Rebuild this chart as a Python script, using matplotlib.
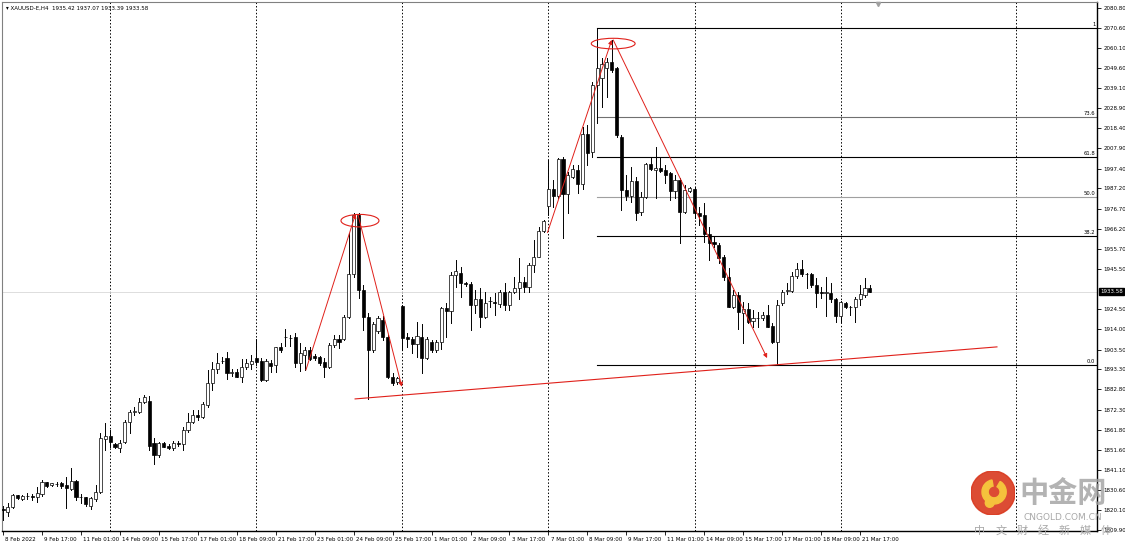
import matplotlib.pyplot as plt
import matplotlib.transforms as mtransforms
from matplotlib.patches import Rectangle, Ellipse, Circle, Wedge

# XAUUSD H4 bars, 8 Feb 09:00 .. 22 Mar 01:00
opens = [1820.8, 1819.0, 1822.0, 1827.9, 1826.1, 1827.5, 1827.4, 1826.8, 1828.6, 1834.6,
         1833.1, 1833.8, 1834.4, 1833.2, 1831.2, 1835.3, 1826.8, 1826.8, 1822.5, 1826.0,
         1829.4, 1857.0, 1858.7, 1854.5, 1852.6, 1855.7, 1866.1, 1871.3, 1871.3, 1876.1,
         1877.0, 1854.9, 1848.8, 1854.9, 1853.6, 1852.3, 1854.9, 1854.5, 1861.8, 1866.1,
         1869.6, 1868.7, 1874.8, 1886.0, 1893.3, 1897.8, 1899.0, 1891.5, 1892.0, 1889.1,
         1894.3, 1896.0, 1899.0, 1897.8, 1887.7, 1896.7, 1895.5, 1904.7, 1910.2, 1909.3,
         1910.2, 1896.4, 1900.7, 1903.3, 1900.2, 1899.5, 1897.2, 1894.6, 1905.9, 1908.8,
         1908.8, 1920.6, 1942.7, 1973.4, 1934.4, 1920.3, 1903.3, 1913.3, 1918.9, 1910.2,
         1889.1, 1886.5, 1926.1, 1910.2, 1908.8, 1906.4, 1910.2, 1899.0, 1907.6, 1903.3,
         1907.6, 1924.9, 1923.7, 1942.2, 1943.1, 1937.9, 1937.6, 1926.7, 1929.6, 1920.6,
         1928.6, 1928.4, 1927.2, 1933.6, 1926.7, 1933.6, 1935.3, 1938.8, 1936.2, 1947.4,
         1951.7, 1965.2, 1978.0, 1986.7, 1983.2, 2002.2, 1984.3, 1992.9, 1996.7, 1989.5,
         2015.5, 2006.2, 2040.8, 2044.3, 2049.5, 2053.0, 2049.5, 2014.0, 1986.3, 1983.4,
         1991.0, 1974.7, 1982.9, 1999.7, 1996.7, 1997.9, 1996.7, 1995.0, 1985.8, 1991.5,
         1975.1, 1985.8, 1986.7, 1974.2, 1973.2, 1963.5, 1959.5, 1957.8, 1951.4, 1941.4,
         1925.8, 1931.8, 1922.7, 1924.4, 1918.5, 1919.7, 1919.7, 1921.5, 1915.7, 1907.6,
         1927.5, 1934.1, 1934.1, 1941.7, 1945.2, 1942.8, 1942.7, 1937.0, 1933.1, 1933.0,
         1933.1, 1929.6, 1920.9, 1927.9, 1925.8, 1925.4, 1929.6, 1931.8, 1935.42]
highs = [1822.4, 1824.1, 1828.6, 1828.2, 1828.0, 1828.9, 1828.6, 1832.4, 1835.8, 1835.0,
         1834.4, 1835.0, 1835.0, 1837.6, 1842.2, 1835.8, 1828.6, 1827.2, 1827.2, 1833.2,
         1860.1, 1865.2, 1861.8, 1855.2, 1856.6, 1867.0, 1872.2, 1873.9, 1878.2, 1880.0,
         1879.5, 1857.5, 1855.7, 1855.7, 1854.5, 1856.2, 1856.2, 1863.5, 1870.4, 1872.2,
         1872.2, 1876.5, 1892.9, 1897.2, 1901.6, 1899.8, 1902.4, 1893.3, 1893.3, 1898.5,
         1898.5, 1900.7, 1908.8, 1899.0, 1898.5, 1898.1, 1905.0, 1906.8, 1914.0, 1911.1,
         1911.9, 1906.8, 1905.0, 1905.0, 1901.2, 1900.2, 1899.0, 1906.8, 1911.1, 1911.1,
         1921.5, 1963.9, 1974.2, 1974.2, 1937.0, 1922.3, 1918.0, 1920.9, 1920.9, 1911.1,
         1891.2, 1889.5, 1926.7, 1911.9, 1910.2, 1918.0, 1916.8, 1910.2, 1908.5, 1908.5,
         1925.5, 1927.5, 1943.9, 1950.0, 1946.5, 1938.5, 1938.8, 1934.4, 1935.3, 1933.6,
         1931.0, 1932.7, 1934.4, 1937.9, 1934.0, 1941.4, 1950.9, 1941.4, 1948.3, 1960.4,
         1967.3, 1970.8, 2001.9, 1991.5, 2002.8, 2003.6, 1995.9, 1999.3, 1999.3, 2019.0,
         2020.1, 2042.2, 2070.4, 2054.7, 2055.0, 2064.2, 2050.3, 2014.9, 1994.1, 1998.4,
         1993.3, 1985.5, 2000.2, 2002.8, 2008.8, 2003.1, 1999.3, 1995.8, 1994.1, 1992.4,
         1989.0, 1988.1, 1988.1, 1977.7, 1979.4, 1967.3, 1962.1, 1958.6, 1952.6, 1945.7,
         1934.4, 1933.6, 1928.4, 1927.5, 1924.1, 1923.2, 1923.2, 1926.7, 1917.1, 1929.3,
         1934.4, 1937.9, 1943.9, 1948.3, 1950.0, 1943.0, 1943.1, 1940.5, 1936.2, 1941.0,
         1937.9, 1930.1, 1928.8, 1928.4, 1926.3, 1930.6, 1937.0, 1940.5, 1937.07]
lows = [1815.0, 1817.3, 1821.5, 1826.1, 1825.5, 1826.1, 1825.5, 1824.6, 1827.5, 1832.4,
        1832.7, 1832.7, 1831.5, 1821.1, 1830.6, 1825.5, 1823.7, 1822.3, 1820.6, 1825.1,
        1828.9, 1851.4, 1853.1, 1852.3, 1850.5, 1854.9, 1860.1, 1869.6, 1870.4, 1875.6,
        1851.5, 1844.1, 1847.6, 1852.8, 1851.7, 1851.4, 1853.5, 1851.4, 1860.9, 1865.2,
        1867.0, 1867.8, 1873.9, 1882.5, 1891.2, 1896.4, 1888.1, 1889.8, 1889.1, 1886.9,
        1893.3, 1893.3, 1895.5, 1887.4, 1887.4, 1892.1, 1892.1, 1902.4, 1905.4, 1905.4,
        1894.6, 1892.6, 1892.9, 1898.1, 1898.1, 1895.5, 1889.5, 1893.8, 1905.0, 1904.2,
        1908.5, 1919.7, 1941.4, 1930.1, 1913.7, 1877.7, 1902.4, 1912.0, 1908.5, 1888.6,
        1885.1, 1885.7, 1903.3, 1905.0, 1901.6, 1899.8, 1891.2, 1898.5, 1902.4, 1902.4,
        1904.0, 1910.2, 1917.1, 1936.2, 1931.0, 1936.5, 1913.7, 1922.3, 1915.4, 1919.7,
        1925.8, 1921.5, 1925.8, 1924.1, 1924.1, 1932.7, 1929.6, 1933.6, 1933.6, 1944.0,
        1951.4, 1964.7, 1973.4, 1977.7, 1982.0, 1961.3, 1974.2, 1992.4, 1984.6, 1987.0,
        1999.3, 2003.6, 2021.0, 2029.6, 2034.8, 2047.8, 2014.0, 1975.9, 1981.1, 1980.3,
        1970.8, 1973.4, 1982.0, 1996.7, 1982.0, 1995.8, 1989.8, 1981.1, 1982.0, 1958.6,
        1974.2, 1985.5, 1971.6, 1968.2, 1959.5, 1950.0, 1956.9, 1948.3, 1939.6, 1925.4,
        1924.9, 1914.0, 1906.8, 1917.1, 1915.4, 1915.4, 1918.9, 1915.1, 1906.8, 1895.3,
        1926.7, 1932.4, 1933.6, 1940.5, 1941.7, 1935.3, 1936.2, 1925.8, 1930.1, 1920.9,
        1928.4, 1918.0, 1918.0, 1924.9, 1921.5, 1918.0, 1926.7, 1931.0, 1933.39]
closes = [1820.2, 1822.0, 1828.0, 1826.5, 1827.5, 1827.4, 1827.2, 1828.9, 1835.0, 1832.9,
          1834.1, 1833.7, 1832.7, 1831.5, 1835.3, 1826.8, 1827.0, 1823.2, 1826.3, 1829.4,
          1857.5, 1858.7, 1855.7, 1852.8, 1855.2, 1866.1, 1871.3, 1871.5, 1876.5, 1879.1,
          1853.5, 1848.8, 1854.9, 1853.1, 1852.3, 1855.2, 1854.7, 1861.8, 1866.1, 1869.6,
          1868.7, 1875.1, 1886.0, 1893.3, 1896.7, 1897.5, 1891.2, 1891.7, 1889.5, 1894.3,
          1896.4, 1897.8, 1897.3, 1887.7, 1897.8, 1895.0, 1904.7, 1903.3, 1910.0, 1909.5,
          1896.4, 1901.6, 1903.3, 1898.5, 1899.1, 1896.7, 1894.6, 1905.9, 1908.8, 1907.6,
          1920.6, 1942.7, 1973.4, 1934.4, 1920.3, 1903.3, 1916.8, 1919.7, 1910.2, 1889.1,
          1886.0, 1888.6, 1909.4, 1908.8, 1906.4, 1910.6, 1899.0, 1908.8, 1903.3, 1907.6,
          1924.9, 1923.7, 1942.2, 1944.5, 1937.9, 1937.7, 1926.7, 1929.6, 1920.6, 1927.9,
          1928.8, 1927.5, 1933.6, 1926.7, 1933.6, 1935.3, 1938.8, 1936.2, 1947.4, 1951.7,
          1965.2, 1970.3, 1986.7, 1983.2, 2002.2, 1984.3, 1994.1, 1997.1, 1989.5, 2015.5,
          2005.4, 2040.8, 2049.5, 2051.6, 2053.0, 2048.6, 2014.9, 1986.3, 1983.4, 1991.0,
          1974.2, 1982.9, 1999.7, 1997.2, 1997.9, 1996.4, 1994.1, 1985.8, 1991.5, 1975.1,
          1986.3, 1987.5, 1974.2, 1973.0, 1963.5, 1959.0, 1958.3, 1950.9, 1941.0, 1925.8,
          1931.8, 1923.2, 1924.4, 1918.0, 1920.1, 1919.9, 1921.5, 1915.4, 1907.6, 1926.7,
          1933.6, 1934.3, 1941.7, 1945.2, 1942.7, 1942.6, 1937.0, 1933.1, 1933.0, 1933.1,
          1929.6, 1920.9, 1928.4, 1925.4, 1925.6, 1929.6, 1932.4, 1935.3, 1933.58]

time_labels = ['8 Feb 2022', '9 Feb 17:00', '11 Feb 01:00', '14 Feb 09:00', '15 Feb 17:00',
               '17 Feb 01:00', '18 Feb 09:00', '21 Feb 17:00', '23 Feb 01:00', '24 Feb 09:00',
               '25 Feb 17:00', '1 Mar 01:00', '2 Mar 09:00', '3 Mar 17:00', '7 Mar 01:00',
               '8 Mar 09:00', '9 Mar 17:00', '11 Mar 01:00', '14 Mar 09:00', '15 Mar 17:00',
               '17 Mar 01:00', '18 Mar 09:00', '21 Mar 17:00']
week_starts = [22, 52, 82, 112, 142, 172, 208]

price_ticks = [2080.80, 2070.60, 2060.10, 2049.60, 2039.10, 2028.90, 2018.40, 2007.90,
               1997.40, 1987.20, 1976.70, 1966.20, 1955.70, 1945.50, 1924.50, 1914.00,
               1903.50, 1893.30, 1882.80, 1872.30, 1861.80, 1851.60, 1841.10, 1830.60,
               1820.10, 1809.90]
last_price = 1933.58
header = 'XAUUSD-E,H4  1935.42 1937.07 1933.39 1933.58'

fib_start = 122
fib_high, fib_low = 2070.4, 1895.3
fib_levels = [0.0, 38.2, 50.0, 61.8, 73.6, 100.0]
fib_texts = ['0.0', '38.2', '50.0', '61.8', '73.6', '1']
fib_colors = ['black', 'black', '#a0a0a0', 'black', '#707070', 'black']

# hand drawn red marks: (bar, price) pairs
up_arrows = [((62.2, 1892.9), (72.4, 1973.9)), ((111.8, 1964.2), (125.0, 2064.2))]
down_arrows = [((72.9, 1973.4), (81.9, 1884.2)), ((125.3, 2064.2), (156.9, 1899.1))]
ellipses = [(73.3, 1970.4, 7.8, 6.5), (125.3, 2062.3, 9.0, 5.5)]
trend_line = ((72.3, 1877.9), (204.1, 1904.9))

watermark_sub = ['中', '文', '财', '经', '新', '媒', '体']

plt.rcParams['font.family'] = ['DejaVu Sans']

fig = plt.figure(figsize=(11.25, 5.46), dpi=100)
ax = fig.add_axes([0.0018, 0.0275, 0.9733, 0.9689])
ax.set_xlim(-0.2, 224.64)
ax.set_ylim(1809.36, 2083.9)

# candles
for i in range(len(opens)):
    o, h, l, c = opens[i], highs[i], lows[i], closes[i]
    ax.plot([i, i], [l, h], color='black', lw=0.7, zorder=3)
    bottom = min(o, c)
    height = max(abs(c - o), 0.25)
    face = 'white' if c >= o else 'black'
    ax.add_patch(Rectangle((i - 0.32, bottom), 0.64, height, facecolor=face,
                           edgecolor='black', lw=0.5, zorder=4))

# weekly separators
for w in week_starts:
    ax.axvline(w, color='black', lw=0.7, linestyle=(0, (1.5, 2.0)), zorder=1)

# last price line
ax.axhline(last_price, color='#d8d8d8', lw=0.6, zorder=1)

# fibonacci
for lev, txt, col in zip(fib_levels, fib_texts, fib_colors):
    p = fib_low + (fib_high - fib_low) * lev / 100.0
    ax.plot([fib_start, 224.64], [p, p], color=col, lw=0.8, zorder=2)
    ax.text(224.3, p + 0.6, txt, ha='right', va='bottom', fontsize=3.8, zorder=5)

# red annotations
for (x0, y0), (x1, y1) in up_arrows + down_arrows:
    ax.annotate('', xy=(x1, y1), xytext=(x0, y0),
                arrowprops=dict(arrowstyle='-|>', color='#e0201a', lw=0.7,
                                mutation_scale=6, shrinkA=0, shrinkB=0), zorder=6)
for cx, cy, w, h in ellipses:
    ax.add_patch(Ellipse((cx, cy), w, h, fill=False, edgecolor='#e0201a', lw=0.8, zorder=6))
(tx0, ty0), (tx1, ty1) = trend_line
ax.plot([tx0, tx1], [ty0, ty1], color='#e0201a', lw=0.8, zorder=6)

# axes styling
ax.yaxis.tick_right()
ax.set_yticks(price_ticks)
ax.set_yticklabels(['%.2f' % p for p in price_ticks])
ax.tick_params(axis='y', length=3, width=0.6, labelsize=4, pad=1.5, direction='out')
ax.set_xticks(range(0, 8 * len(time_labels), 8))
ax.set_xticklabels(time_labels)
ax.tick_params(axis='x', length=3, width=0.6, labelsize=4, pad=1.5, direction='out')
offset = mtransforms.ScaledTranslation(1.5 / 72, 0, fig.dpi_scale_trans)
for lab in ax.get_xticklabels():
    lab.set_ha('left')
    lab.set_transform(lab.get_transform() + offset)
for side in ['left', 'top']:
    ax.spines[side].set_color('#808080')
    ax.spines[side].set_linewidth(0.8)
for side in ['right', 'bottom']:
    ax.spines[side].set_color('black')
    ax.spines[side].set_linewidth(1.0)

# current price box
ax.annotate('%.2f' % last_price, xy=(1.003, last_price), xycoords=('axes fraction', 'data'),
            ha='left', va='center', fontsize=4, color='white', zorder=7,
            bbox=dict(boxstyle='square,pad=0.2', fc='black', ec='black'),
            annotation_clip=False)

# header
ax.text(0.004, 0.993, '\u25be ' + header, transform=ax.transAxes, ha='left', va='top',
        fontsize=4)
ax.plot(179.7, 2083.0, marker='v', color='#a0a0a0', ms=3, clip_on=False, zorder=7)

# watermark
logo = fig.add_axes([971 / 1125, 1 - 515 / 546, 44 / 1125, 44 / 546])
logo.set_xlim(-1, 1)
logo.set_ylim(-1, 1)
logo.set_aspect('equal')
logo.axis('off')
logo.add_patch(Circle((0, 0), 1.0, color='#d9381e', alpha=0.9))
logo.add_patch(Wedge((0.05, 0.05), 0.55, 100, 420, width=0.28, color='#f5c23c'))
logo.add_patch(Circle((-0.15, -0.45), 0.2, color='#f5c23c'))
fig.text(1063 / 1125, 1 - 493 / 546, '中金网', family=['Noto Sans CJK SC'], fontsize=21,
         fontweight='bold', color='#a0a0a0', alpha=0.8, ha='center', va='center')
fig.text(1063 / 1125, 1 - 518 / 546, 'CNGOLD.COM.CN', fontsize=6.5, color='#a8a8a8',
         ha='center', va='center')
for k, ch in enumerate(watermark_sub):
    fig.text((980 + 21 * k) / 1125, 1 - 531 / 546, ch, family=['Noto Sans CJK SC'],
             fontsize=8, color='#a8a8a8', ha='center', va='center')

fig.savefig('out.png', dpi=100)
